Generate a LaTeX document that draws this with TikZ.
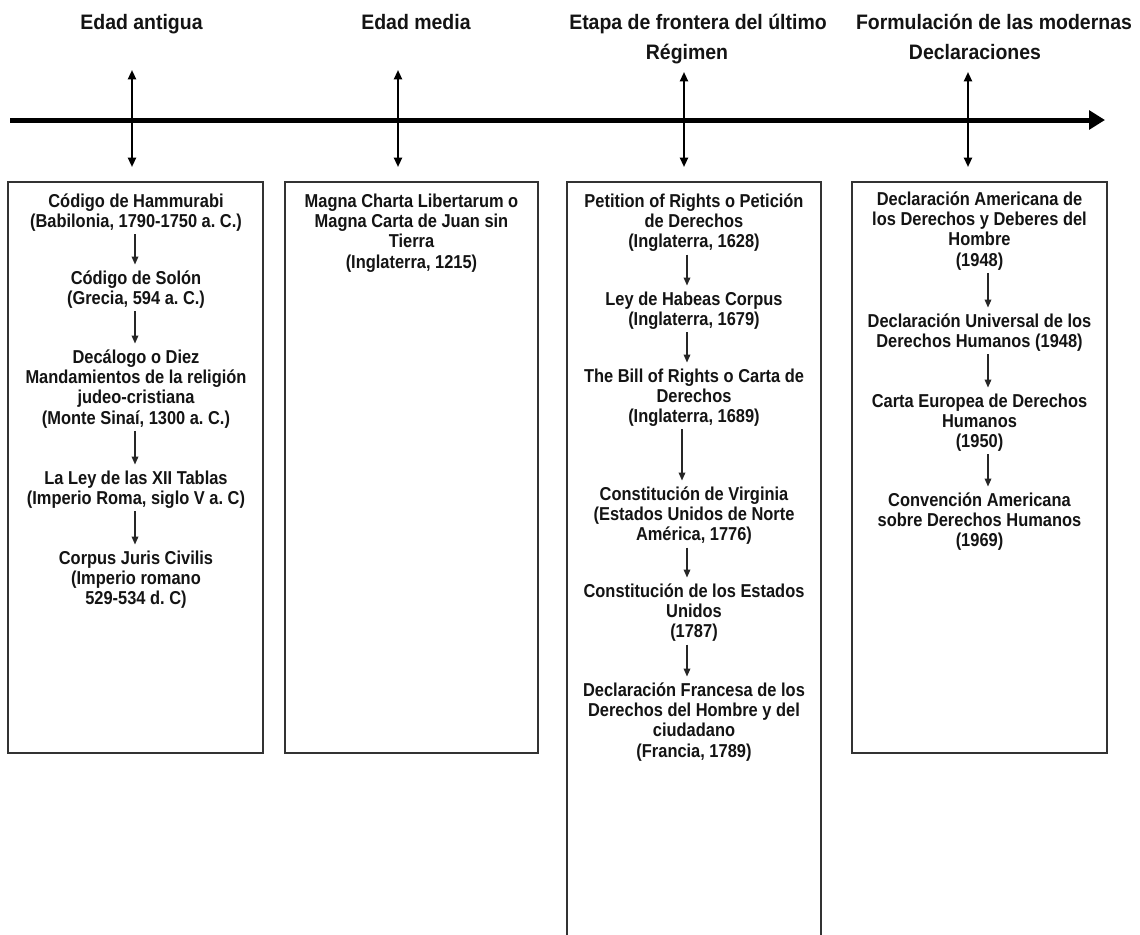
\documentclass[tikz,border=0pt]{standalone}
\usepackage{fontspec}
\setmainfont{Liberation Sans}
\newfontfamily\boxfont{Liberation Sans}[FakeStretch=0.88]
\newfontfamily\hdrfont{Liberation Sans}[FakeStretch=0.93]
\usetikzlibrary{arrows.meta,calc}
\frenchspacing
\begin{document}
\begin{tikzpicture}[x=0.75pt,y=-0.75pt,
  every node/.style={inner sep=0pt,outer sep=0pt},
  txt/.style={align=center,anchor=north,text=black!92,
    font=\boxfont\bfseries\fontsize{14}{15.3}\selectfont},
  hdr/.style={align=center,anchor=north,text=black!92,
    font=\hdrfont\bfseries\fontsize{15.7}{22.5}\selectfont},
  boxframe/.style={draw=black!80,line width=1.1pt},
  inarr/.style={draw=black!85,line width=1pt,-{Triangle[length=6pt,width=5pt]},
    shorten <=2pt,shorten >=4.5pt},
  dblarr/.style={draw=black,line width=1.5pt,
    {Triangle[length=7pt,width=6pt]}-{Triangle[length=7pt,width=6pt]}},
  timeline/.style={draw=black,line width=3.75pt,-{Triangle[length=12pt,width=14pt]}}
]
\useasboundingbox (0,0) rectangle (1140,935);
\fill[white] (0,0) rectangle (1140,935);

% headers
\node[hdr] (h1) at (141.5,14) {Edad antigua};
\node[hdr] (h2) at (416,14) {Edad media};
\node[hdr] (h3) at (698,14) {Etapa de frontera del último\\Régimen\hspace*{16.5pt}};
\node[hdr] (h4) at (994,14) {Formulación de las modernas\\Declaraciones\hspace*{28.5pt}};

% timeline
\coordinate (tl) at (10,120);
\coordinate (tr) at (1105,120);
\draw[timeline] (tl) -- (tr);

% double arrows
\coordinate (u1) at (132,70);  \coordinate (v1) at (132,167);
\coordinate (u2) at (398,70);  \coordinate (v2) at (398,167);
\coordinate (u3) at (684,72);  \coordinate (v3) at (684,167);
\coordinate (u4) at (968,72);  \coordinate (v4) at (968,167);
\draw[dblarr] (u1) -- (v1);
\draw[dblarr] (u2) -- (v2);
\draw[dblarr] (u3) -- (v3);
\draw[dblarr] (u4) -- (v4);

% boxes
\node[boxframe,anchor=north west,minimum width=191.25pt,minimum height=428.25pt] (b1) at (8,182) {};
\node[boxframe,anchor=north west,minimum width=189.75pt,minimum height=428.25pt] (b2) at (285,182) {};
\draw[boxframe] (567,940) -- (567,182) -- (821,182) -- (821,940);
\node[boxframe,anchor=north west,minimum width=191.25pt,minimum height=428.25pt] (b4) at (852,182) {};

% box 1
\coordinate (x1) at (135,0);
\node[txt] (a1) at (136,193.5) {Código de Hammurabi\\(Babilonia, 1790-1750 a. C.)};
\node[txt] (a2) at (136,270.5) {Código de Solón\\(Grecia, 594 a. C.)};
\node[txt] (a3) at (136,349.5) {Decálogo o Diez\\Mandamientos de la religión\\judeo-cristiana\\(Monte Sinaí, 1300 a. C.)};
\node[txt] (a4) at (136,470.5) {La Ley de las XII Tablas\\(Imperio Roma, siglo V a. C)};
\node[txt] (a5) at (136,550.5) {Corpus Juris Civilis\\(Imperio romano\\529-534 d. C)};
\draw[inarr] (a1.south -| x1) -- (a2.north -| x1);
\draw[inarr] (a2.south -| x1) -- (a3.north -| x1);
\draw[inarr] (a3.south -| x1) -- (a4.north -| x1);
\draw[inarr] (a4.south -| x1) -- (a5.north -| x1);

% box 2
\node[txt] (m1) at (411.5,193.5) {Magna Charta Libertarum o\\Magna Carta de Juan sin\\Tierra\\(Inglaterra, 1215)};

% box 3
\coordinate (x3) at (687,0);
\coordinate (x3b) at (682,0);
\node[txt] (c1) at (694,193.5) {Petition of Rights o Petición\\de Derechos\\(Inglaterra, 1628)};
\node[txt] (c2) at (694,291.5) {Ley de Habeas Corpus\\(Inglaterra, 1679)};
\node[txt] (c3) at (694,368.5) {The Bill of Rights o Carta de\\Derechos\\(Inglaterra, 1689)};
\node[txt] (c4) at (694,486.5) {Constitución de Virginia\\(Estados Unidos de Norte\\América, 1776)};
\node[txt] (c5) at (694,583.5) {Constitución de los Estados\\Unidos\\(1787)};
\node[txt] (c6) at (694,682.5) {Declaración Francesa de los\\Derechos del Hombre y del\\ciudadano\\(Francia, 1789)};
\draw[inarr] (c1.south -| x3) -- (c2.north -| x3);
\draw[inarr] (c2.south -| x3) -- (c3.north -| x3);
\draw[inarr] (c3.south -| x3b) -- (c4.north -| x3b);
\draw[inarr] (c4.south -| x3) -- (c5.north -| x3);
\draw[inarr] (c5.south -| x3) -- (c6.north -| x3);

% box 4
\coordinate (x4) at (988,0);
\node[txt] (d1) at (979.5,191.5) {Declaración Americana de\\los Derechos y Deberes del\\Hombre\\(1948)};
\node[txt] (d2) at (979.5,313.5) {Declaración Universal de los\\Derechos Humanos (1948)};
\node[txt] (d3) at (979.5,393.5) {Carta Europea de Derechos\\Humanos\\(1950)};
\node[txt] (d4) at (979.5,492.5) {Convención Americana\\sobre Derechos Humanos\\(1969)};
\draw[inarr] (d1.south -| x4) -- (d2.north -| x4);
\draw[inarr] (d2.south -| x4) -- (d3.north -| x4);
\draw[inarr] (d3.south -| x4) -- (d4.north -| x4);
\end{tikzpicture}
\end{document}
